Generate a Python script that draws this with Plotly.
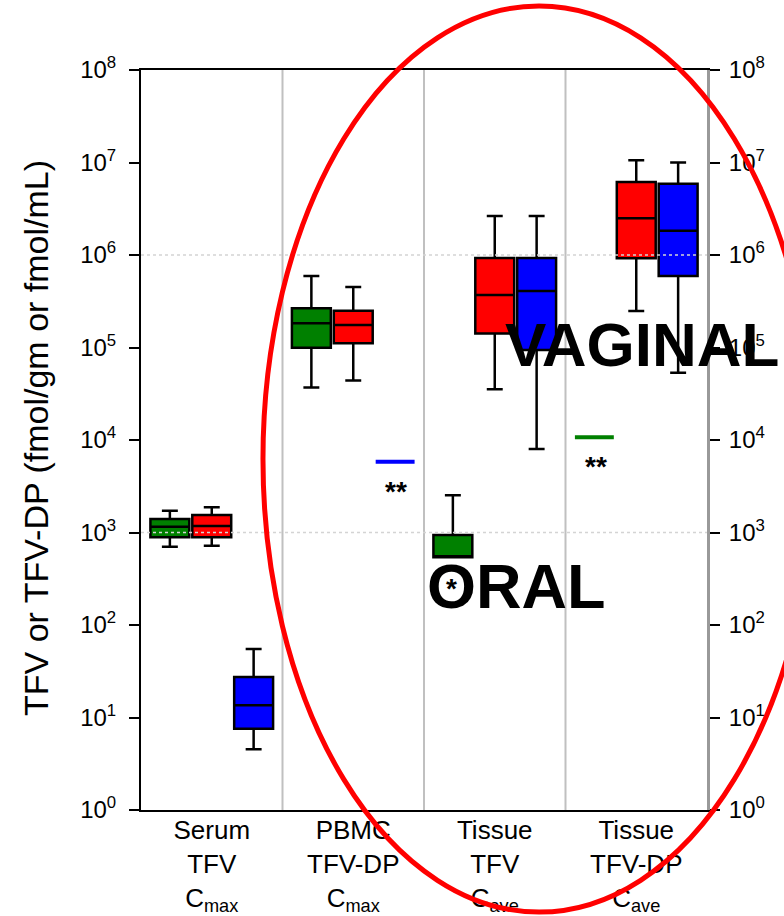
import plotly.graph_objects as go

# ---------------- data ----------------
categories = [
    "Serum<br>TFV<br>C<sub>max</sub>",
    "PBMC<br>TFV-DP<br>C<sub>max</sub>",
    "Tissue<br>TFV<br>C<sub>ave</sub>",
    "Tissue<br>TFV-DP<br>C<sub>ave</sub>",
]

green_lower = [702, 37000, 540, 10700]
green_q1 = [888, 99500, 540, 10700]
green_median = [1155, 183000, 540, 10700]
green_q3 = [1400, 265000, 940, 10700]
green_upper = [1722, 593000, 2525, 10700]

red_lower = [720, 44000, 35300, 248000]
red_q1 = [888, 111000, 142000, 920000]
red_median = [1176, 175000, 370000, 2500000]
red_q3 = [1545, 250000, 929000, 6150000]
red_upper = [1872, 451000, 2640000, 10600000]

blue_lower = [4.53, 5830, 8000, 53400]
blue_q1 = [7.57, 5830, 94000, 593000]
blue_median = [13.6, 5830, 408000, 1830000]
blue_q3 = [27.4, 5830, 929000, 5900000]
blue_upper = [55, 5830, 2640000, 10000000]

y_tickvals = [1, 10, 100, 1e3, 1e4, 1e5, 1e6, 1e7, 1e8]
y_ticktext = ["10<sup>%d</sup>" % i for i in range(9)]
dotted_levels = [1e3, 1e6]

# ---------------- style ----------------
FONT = "Liberation Sans, Arial, sans-serif"
BOX_W = 0.275
OFFS = [-0.296, 0.0, 0.296]

series = [
    ("#008000", green_lower, green_q1, green_median, green_q3, green_upper),
    ("#ff0000", red_lower, red_q1, red_median, red_q3, red_upper),
    ("#0000ff", blue_lower, blue_q1, blue_median, blue_q3, blue_upper),
]

fig = go.Figure()

for (color, lo, q1, med, q3, up), off in zip(series, OFFS):
    normal = [i for i in range(len(categories)) if not (lo[i] == q1[i] == q3[i] == up[i])]
    single = [i for i in range(len(categories)) if (lo[i] == q1[i] == q3[i] == up[i])]
    if normal:
        fig.add_trace(go.Box(
            x=[i + off for i in normal],
            q1=[q1[i] for i in normal],
            median=[med[i] for i in normal],
            q3=[q3[i] for i in normal],
            lowerfence=[lo[i] for i in normal],
            upperfence=[up[i] for i in normal],
            width=BOX_W,
            whiskerwidth=0.41,
            fillcolor=color,
            line=dict(color="black", width=2.5),
            boxpoints=False,
            showlegend=False,
            hoverinfo="skip",
        ))
    if single:
        fig.add_trace(go.Box(
            x=[i + off for i in single],
            q1=[q1[i] for i in single],
            median=[med[i] for i in single],
            q3=[q3[i] for i in single],
            lowerfence=[lo[i] for i in single],
            upperfence=[up[i] for i in single],
            width=BOX_W,
            whiskerwidth=0,
            fillcolor=color,
            line=dict(color=color, width=4),
            boxpoints=False,
            showlegend=False,
            hoverinfo="skip",
        ))

# dotted horizontal reference lines
for lv in dotted_levels:
    fig.add_trace(go.Scatter(
        x=[-0.5, len(categories) - 0.5], y=[lv, lv], mode="lines",
        line=dict(color="#d4d4d4", width=1.5, dash="dot"),
        showlegend=False, hoverinfo="skip",
    ))

# invisible trace for right axis
fig.add_trace(go.Scatter(x=[0], y=[1], yaxis="y2", mode="markers",
                         marker=dict(opacity=0), showlegend=False, hoverinfo="skip"))

# category separators
for i in range(len(categories) - 1):
    fig.add_shape(type="line", x0=i + 0.5, x1=i + 0.5, xref="x", yref="paper", y0=0, y1=1,
                  line=dict(color="#c0c0c0", width=2), layer="below")

# red ellipse
fig.add_shape(type="circle", xref="paper", yref="paper",
              x0=0.2155, x1=1.191, y0=-0.138, y1=1.0865,
              line=dict(color="#ff0000", width=5), layer="above")

ann_font = dict(family=FONT, color="black")
fig.add_annotation(text="VAGINAL", xref="paper", yref="paper", x=0.885, y=0.629,
                   xanchor="center", yanchor="middle", showarrow=False,
                   font=dict(size=62, weight="bold", **ann_font))
fig.add_annotation(text="ORAL", xref="paper", yref="paper", x=0.662, y=0.303,
                   xanchor="center", yanchor="middle", showarrow=False,
                   font=dict(size=63, weight="bold", **ann_font))
fig.add_annotation(text="**", xref="paper", yref="paper", x=(395.5 - 141) / 566, y=(810 - 491) / 740,
                   xanchor="center", yanchor="middle", showarrow=False,
                   font=dict(size=28, weight="bold", **ann_font))
fig.add_annotation(text="**", xref="paper", yref="paper", x=(595.5 - 141) / 566, y=(810 - 467) / 740,
                   xanchor="center", yanchor="middle", showarrow=False,
                   font=dict(size=28, weight="bold", **ann_font))
fig.add_annotation(text="*", xref="paper", yref="paper", x=(451.5 - 141) / 566, y=(810 - 588) / 740,
                   xanchor="center", yanchor="middle", showarrow=False,
                   font=dict(size=28, weight="bold", **ann_font))
fig.add_annotation(text="TFV or TFV-DP (fmol/gm or fmol/mL)", xref="paper", yref="paper",
                   x=(36 - 141) / 566, y=(810 - 438) / 740, textangle=-90,
                   xanchor="center", yanchor="middle", showarrow=False,
                   font=dict(size=34, **ann_font))

yaxis_common = dict(
    type="log", range=[0, 8], tickvals=y_tickvals, ticktext=y_ticktext,
    tickfont=dict(family=FONT, size=24, color="black"),
    ticks="outside", ticklen=10, tickwidth=2, tickcolor="black",
    showgrid=False, zeroline=False, showline=True, automargin=False,
)

fig.update_layout(
    width=784, height=916,
    margin=dict(l=141, r=77, t=70, b=106),
    paper_bgcolor="white", plot_bgcolor="white",
    showlegend=False,
    boxmode="overlay",
    xaxis=dict(
        range=[-0.5, len(categories) - 0.5],
        tickvals=list(range(len(categories))), ticktext=categories,
        tickfont=dict(family=FONT, size=26, color="black"),
        ticklabelstandoff=-4,
        showgrid=False, zeroline=False, showline=True, mirror=True,
        linecolor="black", linewidth=2, ticks="", automargin=False,
    ),
    yaxis=dict(linecolor="black", linewidth=2, ticklabelstandoff=8, **yaxis_common),
    yaxis2=dict(overlaying="y", side="right", linecolor="#999999", linewidth=3,
                ticklabelstandoff=4, **yaxis_common),
)

fig.write_html("out.html")
